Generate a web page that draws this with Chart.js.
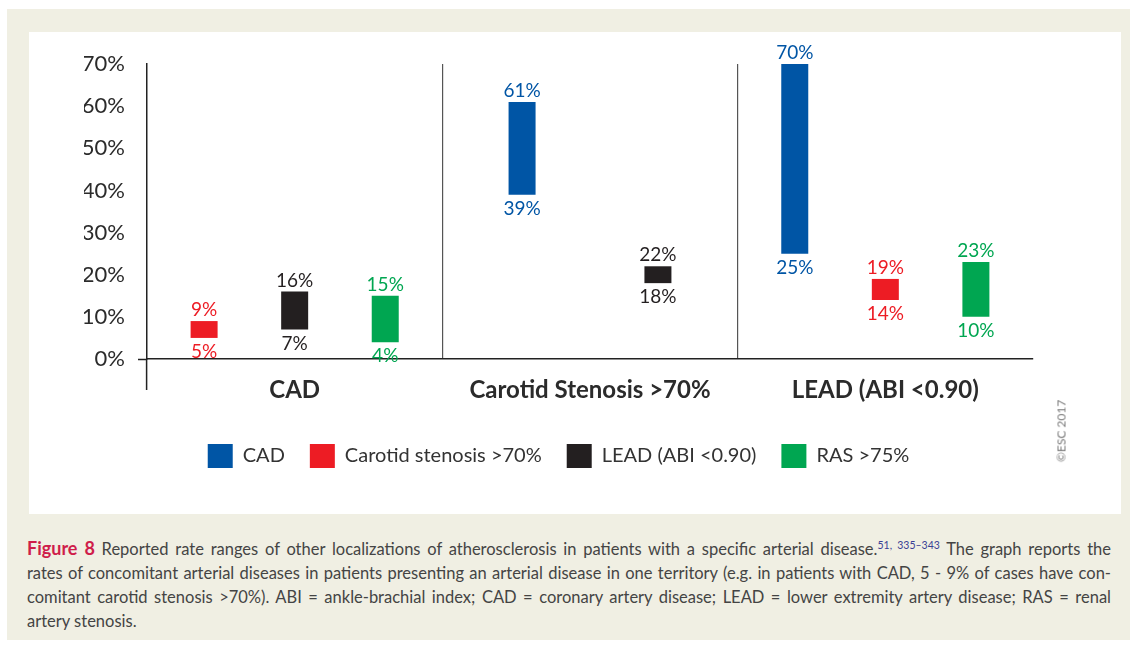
<!DOCTYPE html>
<html>
<head>
<meta charset="utf-8">
<script src="https://cdn.jsdelivr.net/npm/chart.js@4.4.1/dist/chart.umd.min.js"></script>
<style>
  html, body { margin: 0; padding: 0; background: #fff; }
  body { width: 1133px; height: 645px; position: relative; overflow: hidden; font-family: Lato, sans-serif; }
  .frame { position: absolute; left: 7px; top: 9px; width: 1123px; height: 631px; background: #f0efe3; }
  .plot { position: absolute; left: 29px; top: 32px; width: 1092px; height: 482px; background: #fff; }
  .copy { position: absolute; left: 1061px; top: 431px; transform: translate(-50%, -50%) rotate(-90deg);
          font-size: 12px; color: #7a7a7a; white-space: nowrap; }
  .caption { position: absolute; left: 27px; top: 536px; width: 1084px; font-size: 16.5px; line-height: 24px; color: #444; }
  .caption div { white-space: nowrap; text-align: justify; text-align-last: justify; }
  .caption div.last { text-align-last: left; }
  .caption b { color: #cf1d4a; font-size: 18px; }
  .caption sup { color: #3a3f95; font-size: 10.5px; line-height: 0; }
</style>
</head>
<body>
<div class="frame"></div>
<div class="plot"><canvas id="chart"></canvas></div>
<div class="copy">©ESC 2017</div>
<div class="caption">
  <div><b>Figure 8</b> Reported rate ranges of other localizations of atherosclerosis in patients with a specific arterial disease.<sup>51, 335–343</sup> The graph reports the</div>
  <div>rates of concomitant arterial diseases in patients presenting an arterial disease in one territory (e.g. in patients with CAD, 5 - 9% of cases have con-</div>
  <div>comitant carotid stenosis &gt;70%). ABI = ankle-brachial index; CAD = coronary artery disease; LEAD = lower extremity artery disease; RAS = renal</div>
  <div class="last">artery stenosis.</div>
</div>
<script>
// groups on the x axis
const categories = ['CAD', 'Carotid Stenosis >70%', 'LEAD (ABI <0.90)'];
const yTicks = [0, 10, 20, 30, 40, 50, 60, 70];

// reported ranges (low / high, %) per group, null = not shown
const cadLow = [null, 39, 25];
const cadHigh = [null, 61, 70];
const carotidLow = [5, null, 14];
const carotidHigh = [9, null, 19];
const leadLow = [7, 18, null];
const leadHigh = [16, 22, null];
const rasLow = [4, null, 10];
const rasHigh = [15, null, 23];

const ranges = (lo, hi) => lo.map((v, i) => v == null ? null : [v, hi[i]]);

const makeSet = (label, color, lo, hi) => ({
  label: label,
  data: ranges(lo, hi),
  backgroundColor: color,
  borderWidth: 0,
  skipNull: true,
  barPercentage: 1,
  categoryPercentage: 0.92,
  maxBarThickness: 27
});

// low/high value labels under and over each bar
const rangeLabels = {
  id: 'rangeLabels',
  afterDatasetsDraw(chart) {
    const ctx = chart.ctx;
    ctx.save();
    ctx.font = '19px Lato';
    ctx.textAlign = 'center';
    ctx.textBaseline = 'alphabetic';
    chart.data.datasets.forEach((ds, i) => {
      chart.getDatasetMeta(i).data.forEach((bar, j) => {
        const v = ds.data[j];
        if (!v) return;
        const top = Math.min(bar.y, bar.base);
        const bottom = Math.max(bar.y, bar.base);
        ctx.fillStyle = ds.backgroundColor;
        ctx.fillText(v[1] + '%', bar.x, top - 5);
        ctx.fillText(v[0] + '%', bar.x, bottom + 20);
      });
    });
    ctx.restore();
  }
};

Chart.defaults.font.family = 'Lato';
Chart.defaults.color = '#2b2b2b';

new Chart(document.getElementById('chart'), {
  type: 'bar',
  data: {
    labels: categories,
    datasets: [
      makeSet('CAD', '#0055a5', cadLow, cadHigh),
      makeSet('Carotid stenosis >70%', '#ed1c24', carotidLow, carotidHigh),
      makeSet('LEAD (ABI <0.90)', '#231f20', leadLow, leadHigh),
      makeSet('RAS >75%', '#00a651', rasLow, rasHigh)
    ]
  },
  options: {
    responsive: true,
    maintainAspectRatio: false,
    animation: false,
    events: [],
    layout: { padding: { left: 55, right: 88, top: 32, bottom: 36 } },
    plugins: {
      tooltip: { enabled: false },
      legend: {
        position: 'bottom',
        labels: { boxWidth: 25, boxHeight: 24, padding: 25, color: '#333', font: { size: 20 } }
      }
    },
    scales: {
      x: {
        afterFit: s => { s.height = 60; },
        border: { color: '#222', width: 1.5 },
        grid: {
          offset: true,
          color: c => (c.index === 1 || c.index === 2) ? '#555' : 'transparent',
          lineWidth: 1.2,
          tickLength: 31,
          tickWidth: 1.5,
          tickColor: c => c.index === 0 ? '#222' : 'transparent'
        },
        ticks: { padding: -14, color: '#2b2b2b', font: { size: 24, weight: 'bold' } }
      },
      y: {
        min: yTicks[0],
        max: yTicks[yTicks.length - 1],
        afterFit: s => { s.width = 63; },
        afterBuildTicks: s => { s.ticks = yTicks.map(v => ({ value: v })); },
        border: { color: '#222', width: 1.5 },
        grid: {
          drawOnChartArea: false,
          tickLength: 9,
          tickWidth: 1.5,
          tickColor: c => c.tick && c.tick.value === 0 ? '#222' : 'transparent'
        },
        ticks: { padding: 13, color: '#2b2b2b', font: { size: 22 }, callback: v => v + '%' }
      }
    }
  },
  plugins: [rangeLabels]
});
</script>
</body>
</html>
